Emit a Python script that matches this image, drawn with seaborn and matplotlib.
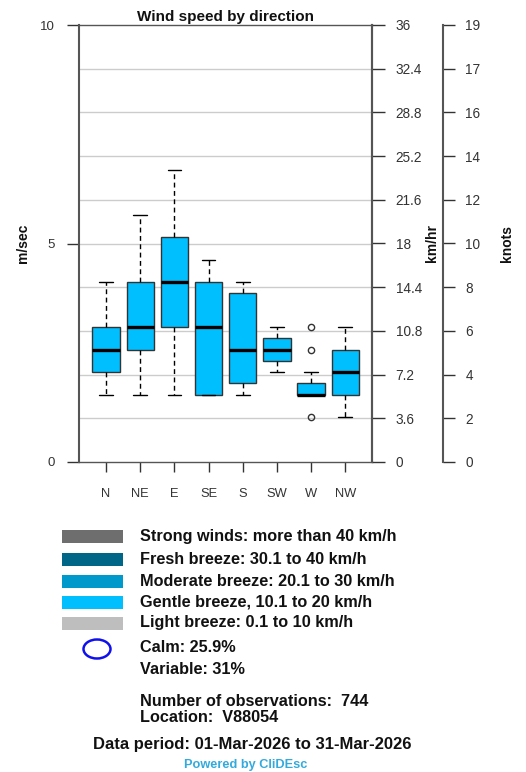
import numpy as np
import pandas as pd
import matplotlib
matplotlib.use("Agg")
import matplotlib.pyplot as plt
import seaborn as sns
from matplotlib.patches import Rectangle, Ellipse

# ---- data (wind speeds in knots) ----
directions = ["N", "NE", "E", "SE", "S", "SW", "W", "NW"]
kt_N = [3, 4, 5, 6, 8]
kt_NE = [3, 5, 6, 8, 11]
kt_E = [3, 6, 8, 10, 13]
kt_SE = [3, 3, 6, 8, 9]
kt_S = [3, 3.5, 5, 7.5, 8]
kt_SW = [4, 4.5, 5, 5.5, 6]
kt_W = [2, 3, 3, 3, 3, 3, 3, 3.5, 3.5, 3.5, 4, 5, 6]
kt_NW = [2, 3, 4, 5, 6]
KT_TO_MS = 0.514444

kmh_ticks = [0, 3.6, 7.2, 10.8, 14.4, 18, 21.6, 25.2, 28.8, 32.4, 36]
kmh_labels = ["0", "3.6", "7.2", "10.8", "14.4", "18", "21.6", "25.2", "28.8", "32.4", "36"]
knot_labels = ["0", "2", "4", "6", "8", "10", "12", "14", "16", "17", "19"]

legend_labels = ["Strong winds: more than 40 km/h",
                 "Fresh breeze: 30.1 to 40 km/h",
                 "Moderate breeze: 20.1 to 30 km/h",
                 "Gentle breeze, 10.1 to 20 km/h",
                 "Light breeze: 0.1 to 10 km/h"]
legend_colors = ["#6E6E6E", "#006688", "#0099CC", "#00BFFF", "#BEBEBE"]
calm_text = "Calm: 25.9%"
variable_text = "Variable: 31%"
obs_text = "Number of observations:  744"
loc_text = "Location:  V88054"
period_text = "Data period: 01-Mar-2026 to 31-Mar-2026"
powered_text = "Powered by CliDEsc"

series = {"N": kt_N, "NE": kt_NE, "E": kt_E, "SE": kt_SE,
          "S": kt_S, "SW": kt_SW, "W": kt_W, "NW": kt_NW}
rows = []
for d in directions:
    for v in series[d]:
        rows.append({"direction": d, "speed": v * KT_TO_MS})
df = pd.DataFrame(rows)

sns.set_theme(style="white")
plt.rcParams["font.family"] = ["Liberation Sans", "DejaVu Sans"]

W, H = 526, 772
fig = plt.figure(figsize=(W / 100, H / 100), dpi=100)


def fx(px):
    return px / W


def fy(py):
    return 1 - py / H


ax = fig.add_axes([fx(79), fy(462), fx(372) - fx(79), fy(25) - fy(462)])
ax.set_facecolor("white")
for yv in range(1, 10):
    ax.axhline(yv, color="#cccccc", lw=1, zorder=0)

sns.boxplot(data=df, x="direction", y="speed", order=directions, ax=ax,
            color="#00BFFF", saturation=1, width=0.8, linecolor="#333333",
            linewidth=1, whis=1.5,
            medianprops=dict(color="black", linewidth=2.4),
            whiskerprops=dict(linestyle=(0, (3.5, 2.5)), color="black", linewidth=1),
            capprops=dict(color="black", linewidth=1),
            flierprops=dict(marker="o", markerfacecolor="none",
                            markeredgecolor="#333333", markersize=4.5,
                            markeredgewidth=1))

ax.set_xlim(-0.79, 7.78)
ax.set_ylim(0, 10)
ax.set_xlabel("")
ax.set_ylabel("")
ax.set_yticks([0, 5, 10])
ax.set_yticklabels(["0", "5", "10"])
for s in ["left", "right", "top", "bottom"]:
    ax.spines[s].set_visible(True)
    ax.spines[s].set_color("#555555")
    ax.spines[s].set_linewidth(1)
ax.spines["left"].set_linewidth(1.5)
ax.spines["right"].set_linewidth(1.5)
ax.tick_params(axis="y", left=True, direction="out", length=8.6, width=1,
               color="#333333", pad=8.5, labelsize=9.5, labelcolor="#333333")
ax.tick_params(axis="x", bottom=True, direction="out", length=7, width=1,
               color="#333333", pad=12, labelsize=9.3, labelcolor="#333333")

# km/hr axis
ax2 = ax.twinx()
ax2.set_ylim(0, 36)
ax2.set_yticks(kmh_ticks)
ax2.set_yticklabels(kmh_labels)
for s in ["left", "top", "bottom"]:
    ax2.spines[s].set_visible(False)
ax2.spines["right"].set_color("#555555")
ax2.spines["right"].set_linewidth(1.5)
ax2.tick_params(axis="y", right=True, direction="out", length=9.5, width=1,
                color="#333333", pad=7.5, labelsize=9.8, labelcolor="#333333")
ax2.grid(False)

# knots axis
ax3 = ax.twinx()
ax3.set_ylim(0, 10)
ax3.set_yticks(range(11))
ax3.set_yticklabels(knot_labels)
for s in ["left", "top", "bottom"]:
    ax3.spines[s].set_visible(False)
ax3.spines["right"].set_position(("axes", (443 - 79) / (372 - 79)))
ax3.spines["right"].set_color("#555555")
ax3.spines["right"].set_linewidth(1.5)
ax3.tick_params(axis="y", right=True, direction="out", length=8.6, width=1,
                color="#333333", pad=7.5, labelsize=9.8, labelcolor="#333333")
ax3.grid(False)

ax.set_title("Wind speed by direction", fontsize=11, fontweight="bold",
             color="#111111", pad=3)

fig.text(fx(23), fy(243), "m/sec", rotation=90, ha="center", va="center",
         fontsize=10, fontweight="bold", color="#111111")
fig.text(fx(432), fy(243), "km/hr", rotation=90, ha="center", va="center",
         fontsize=10, fontweight="bold", color="#111111")
fig.text(fx(507), fy(243), "knots", rotation=90, ha="center", va="center",
         fontsize=10, fontweight="bold", color="#111111")

# legend
FS = 11.7
row_y = [536, 559, 581, 602, 623]
for lab, col, yy in zip(legend_labels, legend_colors, row_y):
    fig.add_artist(Rectangle((fx(62), fy(yy + 6.5)), fx(123) - fx(62), 13 / H,
                             transform=fig.transFigure, facecolor=col,
                             edgecolor="none"))
    fig.text(fx(140), fy(yy), lab, ha="left", va="center", fontsize=FS,
             fontweight="bold", color="#111111")

fig.add_artist(Ellipse((fx(97), fy(649)), 27 / W, 19 / H,
                       transform=fig.transFigure, facecolor="none",
                       edgecolor="#1010EE", linewidth=1.8))
fig.text(fx(140), fy(647), calm_text, ha="left", va="center", fontsize=FS,
         fontweight="bold", color="#111111")
fig.text(fx(140), fy(669), variable_text, ha="left", va="center", fontsize=FS,
         fontweight="bold", color="#111111")
fig.text(fx(140), fy(702), obs_text, ha="left", va="center", fontsize=FS,
         fontweight="bold", color="#111111")
fig.text(fx(140), fy(718), loc_text, ha="left", va="center", fontsize=FS,
         fontweight="bold", color="#111111")
fig.text(fx(252), fy(745), period_text, ha="center", va="center", fontsize=12,
         fontweight="bold", color="#111111")
fig.text(fx(246), fy(765), powered_text, ha="center", va="center", fontsize=9.2,
         fontweight="bold", color="#33AADD")

fig.savefig("out.png", dpi=100, facecolor="white")
